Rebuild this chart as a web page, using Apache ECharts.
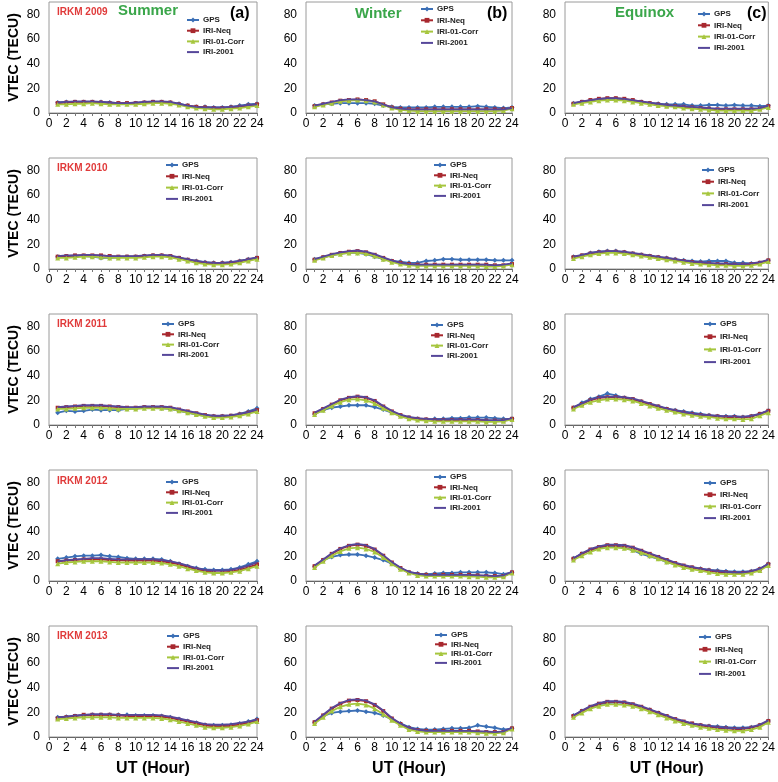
<!DOCTYPE html>
<html><head><meta charset="utf-8">
<script src="https://cdn.jsdelivr.net/npm/echarts@6/dist/echarts.min.js"></script>
<style>html,body{margin:0;padding:0;background:#fff}#c{width:778px;height:782px}</style>
</head><body><div id="c"></div>
<script>
// ---------- DATA ----------
const hours = [1,2,3,4,5,6,7,8,9,10,11,12,13,14,15,16,17,18,19,20,21,22,23,24];
const xTickLabels = ['0','2','4','6','8','10','12','14','16','18','20','22','24'];
const yTickLabels = ['0','20','40','60','80'];
const seriesNames = ['GPS','IRI-Neq','IRI-01-Corr','IRI-2001'];
const yearLabels = ['IRKM 2009','IRKM 2010','IRKM 2011','IRKM 2012','IRKM 2013'];
const seasonLabels = ['Summer','Winter','Equinox'];
const panelLetters = ['(a)','(b)','(c)'];

// 2009
const gps09S  = [8.5,9,9,9,9,9,8.5,8,8,8,8.5,9,9,8.5,7.5,6,5,5,4.5,4.5,5,6,7,7.5];
const neq09S  = [8,8.5,9,9,9,8.5,8,8,8,8,8.5,9,9,8.5,7,6,5,4.5,4,4,4.5,5,6,7];
const cor09S  = [7,7,7.5,7.5,8,7.5,7,7,7,7,7.5,8,8,7.5,6.5,5,4,3.5,3,3,3.5,4,5,6];
const i01_09S = [8.5,9,9.5,9.5,9.5,9,8.5,8,8,8.5,9,9.5,9.5,9,7.5,6,5,4.5,4.5,4.5,5,5.5,6.5,7];
const gps09W  = [6,7,7.5,8,8,8,8,7.5,6,5,4.5,4.5,4.5,4.5,5,5,5,5,5,5.5,5,4.5,4,4.5];
const neq09W  = [5.5,7,8.5,10,10.5,11,10.5,9.5,7,4.5,3.5,3,3,3,3,3,3,3,3,3,3,3,3,4];
const cor09W  = [5,6.5,8,9.5,10,10.5,10,9,6.5,4,2.5,2,1.5,1.5,1.5,1.5,1.5,1.5,1.5,1.5,1.5,1.5,2,3.5];
const i01_09W = [6,7.5,9,10.5,11,11,10.5,9.5,7,4.5,3.5,3,3,3,3,3,3,3,3,3,3,3,3,4];
const gps09E  = [8,9,10,11,11,11.5,11,10,9,8,7.5,7,7,7,6,6,6.5,6.5,6,6.5,6,6,5.5,6];
const neq09E  = [7.5,9,10.5,11.5,12,12,11.5,10.5,9,8,7,6,5.5,5,4.5,4,3.5,3,3,3,3,3,3.5,5.5];
const cor09E  = [7,8,9,10,10.5,10.5,10,9,8,7,6,5.5,5,4,3.5,3,2.5,2,2,2,2,2,3,4.5];
const i01_09E = [8,9.5,10.5,11.5,12,12,11.5,10.5,9.5,8.5,7.5,6.5,6,5.5,5,4.5,4,3.5,3.5,3.5,3.5,3.5,4,6];
// 2010
const gps10S  = [10,10,10.5,10.5,10,9,9,9.5,10,10,10.5,11,11,10,9,7.5,6.5,5.5,5,5,5.5,6.5,8,9];
const neq10S  = [10,10.5,11,11,11,11,10.5,10,10,10,10.5,11,11,10.5,9,7.5,6,5,4.5,4.5,5,6,7.5,9];
const cor10S  = [9,9,9.5,10,10,9.5,9,9,9,9,9.5,10,10,9.5,8,6.5,5,4,3.5,3.5,4,5,6.5,8];
const i01_10S = [10.5,11,11,11.5,11.5,11,10.5,10.5,10.5,10.5,11,11.5,11.5,11,9.5,8,6.5,5.5,5,5,5.5,6.5,8,9.5];
const gps10W  = [8,9.5,11,12.5,13,13,12,10,8,6.5,6,5,5,6.5,7,8,8,7.5,7.5,7.5,7.5,7,7,7];
const neq10W  = [7.5,9.5,11.5,13,14,14.5,13.5,11.5,9,6.5,5,4,3.5,3.5,3.5,3.5,3.5,3.5,3.5,3.5,3.5,3,3,4];
const cor10W  = [7,9,11,12,13,13,12.5,10.5,8,5.5,4,3,2.5,2.5,2.5,2.5,2.5,2.5,2.5,2.5,2,2,2.5,3.5];
const i01_10W = [8,10,12,13.5,14.5,15,14,12,9.5,7,5,4,3.5,3.5,3.5,3.5,3.5,3.5,3.5,3.5,3.5,3,3.5,4.5];
const gps10E  = [10,11,13,14,14.5,14.5,13.5,12.5,11.5,10.5,9.5,9,8,7,6.5,6,6.5,6.5,6.5,5,5,4.5,5,7];
const neq10E  = [9.5,11,12.5,13.5,14,14,13.5,12.5,11.5,10.5,9.5,8.5,7.5,6.5,5.5,5,4.5,4,4,3.5,3.5,4,5,7];
const cor10E  = [8.5,10,11.5,12.5,13,13,12.5,11.5,10.5,9.5,8.5,7.5,6.5,5.5,4.5,4,3.5,3,3,2.5,2.5,3,4,6];
const i01_10E = [10,11.5,13,14,14.5,14.5,14,13,12,11,10,9,8,7,6,5.5,5,4.5,4.5,4,4,4.5,5.5,7.5];
// 2011
const gps11S  = [10,11.5,11,11.5,12.5,12,12,12,13,13.5,14,14,13.5,13,11.5,10,8.5,7.5,7,7,7.5,9,11,13.5];
const neq11S  = [14,14.5,15,15.5,15.5,15.5,15,14.5,14,14,14.5,14.5,14.5,14,12.5,11,9.5,8,7,7,7.5,8.5,10,12];
const cor11S  = [13,13,13.5,14,14,14,13.5,13,13,13,13.5,13.5,13.5,13,11.5,10,8.5,7,6,6,6.5,7.5,9,11];
const i01_11S = [14.5,15,15.5,16,16,16,15.5,15,14.5,14.5,15,15,15,14.5,13,11.5,10,8.5,7.5,7.5,8,9,10.5,12.5];
const gps11W  = [9,12,14,15,16,16,16,14.5,12.5,10,7.5,6,5,4.5,5,5,5.5,5.5,6,6,6,5.5,5,5];
const neq11W  = [9.5,13,16.5,20,22,23,22,19.5,15,11,8,6,5,4.5,4,4,4,4,4,4,3.5,3.5,3.5,5];
const cor11W  = [8.5,12,15.5,18.5,20.5,21,20,17.5,13.5,10,7,5,4,3.5,3,3,3,3,3,3,2.5,2.5,3,4.5];
const i01_11W = [10,13.5,17,20.5,22.5,23.5,22.5,20,15.5,11.5,8.5,6.5,5.5,5,4.5,4.5,4.5,4.5,4.5,4.5,4,4,4,5.5];
const gps11E  = [14,18,21,23,25.5,24,22,20.5,19,16.5,15,13,12,11,10,9,8,7,7,7,6.5,7,9,11.5];
const neq11E  = [14,17,20,22,22.5,22.5,22,21,19,17,15,13,11.5,10,9,8,7.5,7,6.5,6.5,6,7,9,11.5];
const cor11E  = [13,16,18.5,20,21,21,20.5,19.5,17.5,15.5,13.5,12,10.5,9,8,7,6.5,5.5,5,5,4.5,5,7.5,10];
const i01_11E = [14.5,17.5,20.5,22.5,23,23,22.5,21.5,19.5,17.5,15.5,13.5,12,10.5,9.5,8.5,8,7.5,7,7,6.5,7.5,9,12];
// 2012
const gps12S  = [18,19,20,20.5,20.5,21,20,19.5,18.5,18,18,18,17.5,16,14,12,10.5,9.5,9,9,9.5,11,13.5,16];
const neq12S  = [16,16.5,17,17.5,17.5,17.5,17,17,16.5,16.5,16.5,16.5,16,15,13.5,11.5,9.5,8,7,7,7.5,9,11,13.5];
const cor12S  = [14,15,15.5,16,16,16,15.5,15,15,15,15,15,14.5,13.5,12,10,8.5,7,6.5,6.5,7,8,10,12];
const i01_12S = [16,17,17.5,18,18.5,18.5,18,17.5,17.5,17.5,17.5,17.5,17,16,14.5,12.5,10.5,9,8.5,8.5,9,10.5,12.5,15];
const gps12W  = [12,17,19.5,21,21.5,21.5,20.5,19,17,14,10,7,6,5.5,6,6.5,6.5,7,7,7,7,6.5,5.5,7];
const neq12W  = [12,17,22,26,28.5,29.5,28.5,25.5,20.5,15,10.5,7,5.5,5,5,5,5,5,5,4.5,4,4,4,7];
const cor12W  = [11,16,20.5,24,26.5,27,26,23.5,19,14,9.5,6.5,4.5,4,4,4,4,4,3.5,3.5,3,3,3.5,6.5];
const i01_12W = [12.5,17.5,22.5,26.5,29,30,29,26,21,15.5,11,7.5,6,5,5,5,5,5,5,4.5,4.5,4,4.5,7.5];
const gps12E  = [18.5,22,25,27,28,28,27,25,22,20,18,15.5,13.5,12,11,10,9,8.5,8,7.5,7.5,8,10,14];
const neq12E  = [18,22,25.5,27.5,29,29,28.5,27,24.5,22,19.5,17,14.5,12.5,11,9.5,8.5,7.5,7,6.5,6.5,7.5,9.5,13.5];
const cor12E  = [17,20.5,23.5,26,27,27,26.5,25,23,20.5,18,15.5,13,11,9.5,8.5,7,6,5.5,5.5,5.5,6.5,8.5,12.5];
const i01_12E = [18.5,22.5,26,28,29.5,29.5,29,27.5,25,22.5,20,17.5,15,13,11.5,10,9,8,7.5,7,7,8,10,14];
// 2013
const gps13S  = [16,16.5,17,17.5,18,18,18,18,18,17.5,17.5,17.5,17,16,14.5,13,11.5,10,9.5,9.5,10,11,12.5,14.5];
const neq13S  = [15,16,17,18,18,18,18,17.5,17,17,17,17,16.5,15.5,14,12.5,11,9.5,8.5,8.5,9,10,11.5,13.5];
const cor13S  = [14.5,15,15.5,16,16,16,16,15.5,15.5,15.5,15.5,15.5,15,14,12.5,11,9.5,8,7.5,7.5,8,9,10.5,12.5];
const i01_13S = [16,16.5,17.5,18,18.5,18.5,18.5,18,18,18,18,18,17.5,16.5,15,13.5,12,10.5,10,10,10.5,11.5,12.5,14];
const gps13W  = [12,17,19.5,20.5,21,21.5,20.5,19.5,17.5,14.5,11,8,6.5,6,6,6.5,7,7,7.5,9.5,8.5,7.5,6,7];
const neq13W  = [12,17.5,23,27,29.5,30,29,26,21,15,10.5,7,5.5,5,5,5,5,5,5,4.5,4,4,4,7];
const cor13W  = [11,16,21,24.5,26.5,27,26,23,18.5,13.5,9.5,6,4.5,4,4,4,4,4,4,3.5,3,3,3.5,6.5];
const i01_13W = [12.5,18,23.5,27.5,30,30.5,29.5,26.5,21.5,15.5,11,7.5,6,5,5,5,5,5,5,4.5,4.5,4,4.5,7.5];
const gps13E  = [17.5,21,24,26.5,27.5,28,27.5,26,24,22,19.5,16.5,14,12,10.5,9.5,9,8.5,8,7.5,7.5,8,9.5,13];
const neq13E  = [17,21,24.5,27,28.5,28.5,28,26.5,24.5,22,19.5,17,14.5,12.5,11,9.5,8.5,7.5,7,6.5,6.5,7.5,9.5,13];
const cor13E  = [16,19.5,23,25,26.5,26.5,26,25,23,20.5,18,15.5,13,11,9.5,8,7,6,5.5,5,5,6,8,12];
const i01_13E = [17.5,21.5,25,27.5,29,29,28.5,27,25,22.5,20,17.5,15,13,11,10,9,8,7.5,7,7,8,10,13.5];

const panelData = [
  [[gps09S,neq09S,cor09S,i01_09S],[gps09W,neq09W,cor09W,i01_09W],[gps09E,neq09E,cor09E,i01_09E]],
  [[gps10S,neq10S,cor10S,i01_10S],[gps10W,neq10W,cor10W,i01_10W],[gps10E,neq10E,cor10E,i01_10E]],
  [[gps11S,neq11S,cor11S,i01_11S],[gps11W,neq11W,cor11W,i01_11W],[gps11E,neq11E,cor11E,i01_11E]],
  [[gps12S,neq12S,cor12S,i01_12S],[gps12W,neq12W,cor12W,i01_12W],[gps12E,neq12E,cor12E,i01_12E]],
  [[gps13S,neq13S,cor13S,i01_13S],[gps13W,neq13W,cor13W,i01_13W],[gps13E,neq13E,cor13E,i01_13E]]
];

// ---------- LAYOUT / STYLE ----------
const colLeft = [49, 306, 565];
const colWidth = [208, 206, 206];
const rowTop = [2, 158, 314, 470, 626];
const plotH = 111;
// legend: [text x, first item center y, pitch]
const legendPos = [
  [[203,20,10.7],[437,9,11.3],[714,14,11.3]],
  [[182,165,11.3],[450,165,10.3],[718,170,11.7]],
  [[178,324,10.3],[447,325,10.3],[720,324,12.7]],
  [[182,482,10.3],[450,477,10.3],[720,483,11.7]],
  [[183,636,10.7],[451,635,9.3],[715,637,12.3]]
];
const seriesStyle = [
  {color:'#3b6fb6', symbol:'diamond', size:5},
  {color:'#a8282e', symbol:'rect', size:4},
  {color:'#a6c63e', symbol:'triangle', size:5},
  {color:'#56479a', symbol:'none', size:0}
];
const FONT = '"Liberation Sans", Arial, sans-serif';

const legendItems = seriesNames.map((n,i)=> i===3
  ? {name:n, icon:'path://M0,0L12,0L12,2L0,2Z', itemStyle:{color:seriesStyle[3].color}}
  : {name:n});

const grids=[], xAxes=[], yAxes=[], series=[], legends=[], titles=[];
let idx = 0;
for (let r=0;r<5;r++){
  for (let c=0;c<3;c++){
    grids.push({left:colLeft[c], top:rowTop[r], width:colWidth[c], height:plotH,
      show:true, borderColor:'#9a9a9a', borderWidth:1, backgroundColor:'transparent'});
    xAxes.push({type:'value', gridIndex:idx, min:0, max:24, interval:2,
      axisLine:{lineStyle:{color:'#666', width:1}},
      axisTick:{show:true, length:3, lineStyle:{color:'#777'}},
      minorTick:{show:true, splitNumber:2, length:3, lineStyle:{color:'#777'}},
      splitLine:{show:false},
      axisLabel:{color:'#000', fontSize:12, fontFamily:FONT, margin:5,
        formatter:v=>xTickLabels[v/2]},
      name: r===4 ? 'UT (Hour)' : '', nameLocation:'middle', nameGap:24,
      nameTextStyle:{fontSize:16, fontWeight:'bold', color:'#000', fontFamily:FONT}
    });
    yAxes.push({type:'value', gridIndex:idx, min:0, max:90, interval:20,
      axisLine:{show:false}, axisTick:{show:false}, splitLine:{show:false},
      axisLabel:{color:'#000', fontSize:12, fontFamily:FONT, margin:9,
        formatter:v=> (v%20===0 && v<=80) ? yTickLabels[v/20] : ''},
      name: c===0 ? 'VTEC (TECU)' : '', nameLocation:'middle', nameGap:28,
      nameTextStyle:{fontSize:14, fontWeight:'bold', color:'#000', fontFamily:FONT}
    });
    for (let s=0;s<4;s++){
      const st = seriesStyle[s];
      series.push({name:seriesNames[s], type:'line', xAxisIndex:idx, yAxisIndex:idx,
        data: hours.map((h,i)=>[h, panelData[r][c][s][i]]),
        symbol: st.symbol, symbolSize: st.size, showSymbol: st.symbol!=='none',
        lineStyle:{color:st.color, width:1.8}, itemStyle:{color:st.color},
        smooth:false, animation:false, z: 2+s});
    }
    const lp = legendPos[r][c];
    legends.push({data:legendItems, orient:'vertical', left: lp[0]-17, top: lp[1]-5,
      itemWidth:12, itemHeight:6, itemGap: lp[2]-10, padding:0, selectedMode:false,
      textStyle:{fontSize:8, fontWeight:'bold', color:'#222', fontFamily:FONT, lineHeight:10, padding:[0,0,0,-1]}});
    idx++;
  }
  titles.push({text:yearLabels[r], left:57, top:[7,163,319,476,631][r], padding:0,
    textStyle:{fontSize:10, fontWeight:'bold', color:'#e03a3a', fontFamily:FONT}});
}
const seasonX = [118, 355, 615];
const seasonY = [3, 6, 5];
for (let c=0;c<3;c++){
  titles.push({text:seasonLabels[c], left:seasonX[c], top:seasonY[c], padding:0,
    textStyle:{fontSize:15, fontWeight:'bold', color:'#3aa64a', fontFamily:FONT}});
  titles.push({text:panelLetters[c], left:[230,487,747][c], top:6, padding:0,
    textStyle:{fontSize:16, fontWeight:'bold', color:'#000', fontFamily:FONT}});
}

const chart = echarts.init(document.getElementById('c'), null, {renderer:'canvas'});
chart.setOption({animation:false, backgroundColor:'#fff', title:titles, legend:legends,
  grid:grids, xAxis:xAxes, yAxis:yAxes, series:series});
</script></body></html>
